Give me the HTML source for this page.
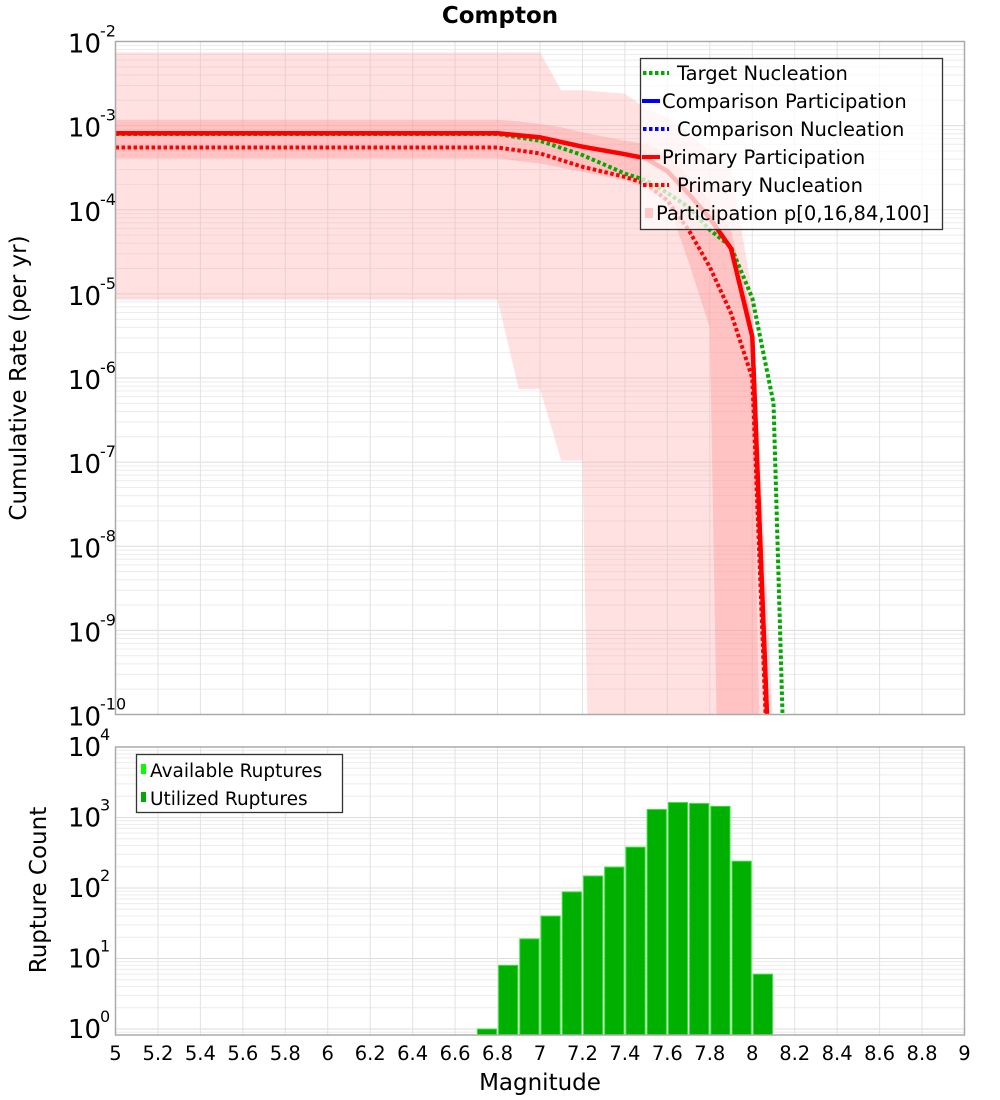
<!DOCTYPE html>
<html><head><meta charset="utf-8"><title>Compton</title>
<style>
html,body{margin:0;padding:0;background:#fff;width:1000px;height:1100px;overflow:hidden;}
svg{display:block;font-family:"DejaVu Sans","Liberation Sans",sans-serif;}
</style></head>
<body>
<svg id="chart" width="1000" height="1100" viewBox="0 0 1000 1100" xmlns="http://www.w3.org/2000/svg">
<text x="500" y="23" text-anchor="middle" font-size="23" font-weight="bold">Compton</text>
<g id="top-grid"></g>
<g id="top-band"></g>
<g id="top-lines"></g>
<rect x="115.5" y="41.5" width="849" height="673" fill="none" stroke="#aaa" stroke-width="1.5"/>
<g id="top-yticks"></g>
<text transform="translate(26,378) rotate(-90)" text-anchor="middle" font-size="23">Cumulative Rate (per yr)</text>

<g>
<rect x="640.5" y="58.5" width="302" height="171" fill="#fff" fill-opacity="0.72" stroke="#333" stroke-width="1.3"/>
<line x1="643" y1="73" x2="669" y2="73" stroke="#00aa00" stroke-width="4" stroke-dasharray="3.5,2.5"/>
<text x="677" y="80" font-size="19.5">Target Nucleation</text>
<line x1="642" y1="101" x2="660" y2="101" stroke="#0000ff" stroke-width="4"/>
<text x="662" y="108" font-size="19.5">Comparison Participation</text>
<line x1="643" y1="129" x2="669" y2="129" stroke="#0000ff" stroke-width="4" stroke-dasharray="3.5,2.5"/>
<text x="677" y="136" font-size="19.5">Comparison Nucleation</text>
<line x1="642" y1="157" x2="660" y2="157" stroke="#ff0000" stroke-width="4"/>
<text x="662" y="164" font-size="19.5">Primary Participation</text>
<line x1="643" y1="185" x2="669" y2="185" stroke="#ff0000" stroke-width="4" stroke-dasharray="3.5,2.5"/>
<text x="677" y="192" font-size="19.5">Primary Nucleation</text>
<rect x="645" y="208" width="8" height="10" fill="#ffc8c8"/>
<text x="656" y="220" font-size="19.5">Participation p[0,16,84,100]</text>
</g>

<g id="bot-grid"></g>
<g id="bot-bars"></g>
<rect x="115.5" y="747" width="849" height="288" fill="none" stroke="#aaa" stroke-width="1.5"/>
<g id="bot-yticks"></g>
<g id="xticks"></g>
<text transform="translate(46,890) rotate(-90)" text-anchor="middle" font-size="23">Rupture Count</text>
<text x="540" y="1090" text-anchor="middle" font-size="23">Magnitude</text>

<g>
<rect x="136.5" y="754.5" width="206" height="58" fill="#fff" stroke="#333" stroke-width="1.3"/>
<rect x="141" y="764" width="5" height="10" fill="#00ff00"/>
<text x="150" y="777" font-size="18.5">Available Ruptures</text>
<rect x="141" y="792" width="5" height="10" fill="#00aa00"/>
<text x="150" y="805" font-size="18.5">Utilized Ruptures</text>
</g>
</svg>
<script>
// ---- data (log10 values for rates) ----
const bandMags = [5.0, 6.8, 6.9, 7.0, 7.1, 7.2, 7.3, 7.4, 7.5, 7.6, 7.7, 7.8, 7.9, 8.0, 8.1];
const bandP100 = [-2.13, -2.13, -2.13, -2.13, -2.58, -2.58, -2.6, -2.62, -2.8, -2.9, -3.1, -3.3, -3.5, -5.0, -10.2];
const bandP84  = [-2.93, -2.93, -2.95, -2.98, -3.02, -3.08, -3.13, -3.18, -3.22, -3.35, -3.6, -3.9, -4.25, -5.3, -20];
const bandP16  = [-3.39, -3.39, -3.42, -3.45, -3.5, -3.55, -3.6, -3.65, -3.75, -3.9, -4.62, -5.4, -20, -20, -20];
const bandP0   = [-5.07, -5.07, -6.13, -6.13, -6.98, -6.98, -20, -20, -20, -20, -20, -20, -20, -20, -20];

const lineMags = [5.0, 6.8, 7.0, 7.2, 7.4, 7.5, 7.6, 7.7, 7.8, 7.9, 8.0, 8.1, 8.2];
const primaryPart = [-3.09, -3.09, -3.14, -3.25, -3.34, -3.39, -3.54, -3.81, -4.1, -4.46, -5.51, -12, -20];
const primaryNucl = [-3.26, -3.26, -3.33, -3.49, -3.61, -3.69, -3.89, -4.24, -4.68, -5.23, -6.0, -12.4, -20];
const targetNucl  = [-3.1, -3.1, -3.18, -3.35, -3.57, -3.65, -3.8, -3.97, -4.24, -4.44, -5.05, -6.3, -15];

const barMags = [6.7, 6.8, 6.9, 7.0, 7.1, 7.2, 7.3, 7.4, 7.5, 7.6, 7.7, 7.8, 7.9, 8.0];
const barCounts = [1, 8, 19, 40, 88, 148, 198, 380, 1300, 1630, 1580, 1440, 240, 6];

const xTicks = ['5','5.2','5.4','5.6','5.8','6','6.2','6.4','6.6','6.8','7','7.2','7.4','7.6','7.8','8','8.2','8.4','8.6','8.8','9'];
const topDecades = [-2,-3,-4,-5,-6,-7,-8,-9,-10];
const botDecades = [4,3,2,1,0];

// ---- axes ----
const NS='http://www.w3.org/2000/svg';
const X0=115.5, X1=964.5;
const xs = m => X0 + (m-5)/4*(X1-X0);
const TY0=41.5, TDEC=84.125;
const ty = v => TY0 + (-2 - v)*TDEC;
const BY0=747, BDEC=70.5;
const by = v => BY0 + (4 - v)*BDEC;
function mk(tag, attrs, parent){const e=document.createElementNS(NS,tag);for(const k in attrs)e.setAttribute(k,attrs[k]);parent.appendChild(e);return e;}

const tg=document.getElementById('top-grid');
const bg=document.getElementById('bot-grid');
for(let d=-10; d<-2; d++){
  for(let k=1;k<10;k++){
    const y=ty(d+Math.log10(k));
    const l=mk('line',{x1:X0,x2:X1,y1:y,y2:y,stroke:k==1?'#dcdcdc':'#ececec','stroke-width':1},tg);
    
    
  }
}
for(let d=-1; d<4; d++){
  for(let k=1;k<10;k++){
    const y=by(d+Math.log10(k));
    if(y>1035) continue;
    const l=mk('line',{x1:X0,x2:X1,y1:y,y2:y,stroke:k==1?'#dcdcdc':'#ececec','stroke-width':1},bg);
    
    
  }
}
xTicks.forEach(t=>{
  const x=xs(parseFloat(t));
  const a=mk('line',{x1:x,x2:x,y1:TY0,y2:715,stroke:'#e2e2e2','stroke-width':1},tg);
  
  
  const b=mk('line',{x1:x,x2:x,y1:BY0,y2:1035,stroke:'#e2e2e2','stroke-width':1},bg);
  
  
  const tx=mk('text',{x:x,y:1060,'text-anchor':'middle','font-size':19.5},document.getElementById('xticks'));
  
  
  tx.textContent=t;
});

function ytick(parent,y,exp,name){
  const t=mk('text',{x:101,y:y+9,'text-anchor':'end','font-size':26},parent);
  
  
  t.textContent='10';
  const s=mk('text',{x:100,y:y-7,'text-anchor':'start','font-size':16},parent);
  
  
  s.textContent=String(exp);
}
topDecades.forEach(d=>ytick(document.getElementById('top-yticks'),ty(d)+2,d,'top-y-tick-label'));
botDecades.forEach(d=>ytick(document.getElementById('bot-yticks'),by(d),d,'bottom-y-tick-label'));

const defs=mk('defs',{},document.getElementById('chart'));
const cp=mk('clipPath',{id:'topclip'},defs);
mk('rect',{x:X0,y:TY0,width:X1-X0,height:715-TY0},cp);
const band=document.getElementById('top-band');
band.setAttribute('clip-path','url(#topclip)');
function bandPoly(upper,lower,fill,name){
  let pts=bandMags.map((m,i)=>xs(m)+','+ty(upper[i]));
  for(let i=bandMags.length-1;i>=0;i--) pts.push(xs(bandMags[i])+','+ty(lower[i]));
  const p=mk('polygon',{points:pts.join(' '),fill:fill},band);
  
  
}
bandPoly(bandP100,bandP0,'rgba(255,170,170,0.35)','band-p0-p100');
bandPoly(bandP84,bandP16,'rgba(255,140,140,0.35)','band-p16-p84');

const lg=document.getElementById('top-lines');
lg.setAttribute('clip-path','url(#topclip)');
function line(vals,color,dash,name,w){
  const d=lineMags.map((m,i)=>(i?'L':'M')+xs(m).toFixed(1)+','+ty(vals[i]).toFixed(1)).join(' ');
  const p=mk('path',{d:d,fill:'none',stroke:color,'stroke-width':w},lg);
  if(dash) p.setAttribute('stroke-dasharray',dash);
  
  
}
line(primaryPart,'#0000ff',null,'comparison-participation-line',4);
line(targetNucl,'#00aa00','3.5,2.5','target-nucleation-line',4);
line(primaryNucl,'#ff0000','3.5,2.5','primary-nucleation-line',4);
line(primaryPart,'#ff0000',null,'primary-participation-line',4.5);

const bb=document.getElementById('bot-bars');
barMags.forEach((m,i)=>{
  const x=xs(m)+1, w=xs(m+0.1)-xs(m)-2;
  const y=by(Math.log10(barCounts[i]));
  const r=mk('rect',{x:x,y:y,width:w,height:1035-y,fill:'#00b000',stroke:'#3ee03e','stroke-width':1},bb);
  
  
});
</script>
</body></html>
